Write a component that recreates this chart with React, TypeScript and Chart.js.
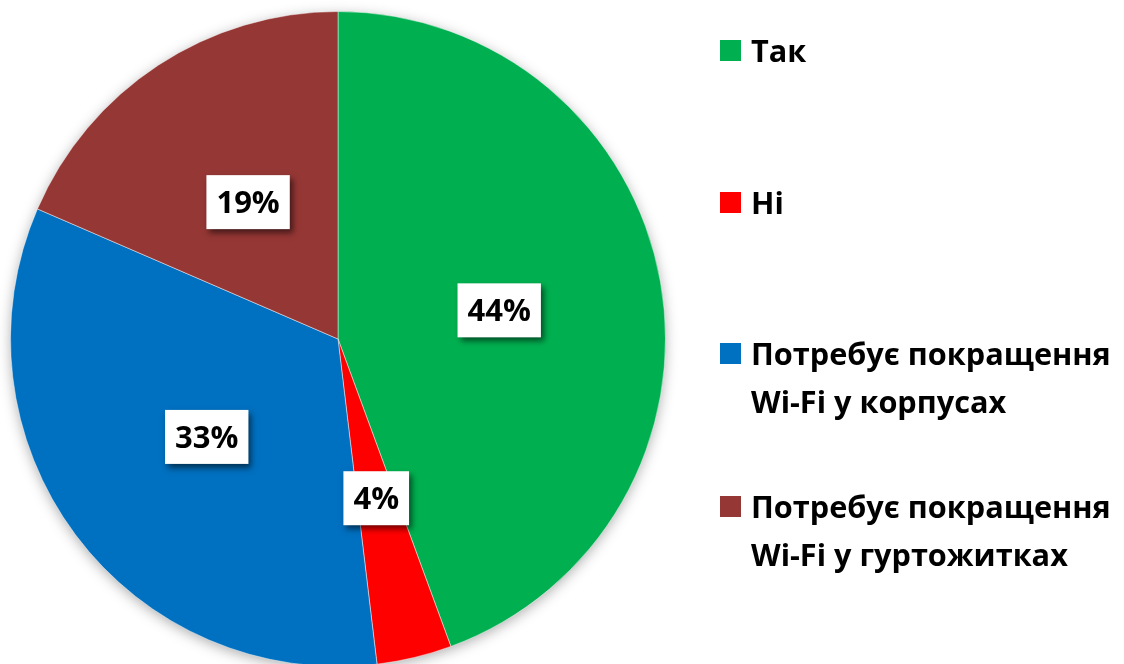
import React, { useEffect, useRef } from "react";
import { Chart, registerables } from "chart.js";

Chart.register(...registerables);

const categories = [
  "Так",
  "Ні",
  "Потребує покращення\nWi-Fi у корпусах",
  "Потребує покращення\nWi-Fi у гуртожитках",
];
const values = [44.4, 3.7, 33.4, 18.5];
const colors = ["#00B050", "#FF0000", "#0070C0", "#953735"];
const valueLabels = ["44%", "4%", "33%", "19%"];

const FONT = "'Open Sans', 'Noto Sans', sans-serif";

const pieShadow = {
  id: "pieShadow",
  beforeDatasetsDraw(chart: any) {
    const meta = chart.getDatasetMeta(0);
    const arc = meta.data[0];
    if (!arc) return;
    const { x, y, outerRadius } = arc.getProps(["x", "y", "outerRadius"], true);
    const ctx = chart.ctx;
    ctx.save();
    ctx.shadowColor = "rgba(0,0,0,0.35)";
    ctx.shadowBlur = 14;
    ctx.shadowOffsetY = 3;
    ctx.fillStyle = "#ffffff";
    ctx.beginPath();
    ctx.arc(x, y, outerRadius - 1, 0, Math.PI * 2);
    ctx.fill();
    ctx.restore();
  },
};

const labelsPlugin = {
  id: "boxLabels",
  afterDatasetsDraw(chart: any) {
    const ctx = chart.ctx;
    const meta = chart.getDatasetMeta(0);
    ctx.save();
    ctx.font = `bold 31px ${FONT}`;
    ctx.textAlign = "center";
    ctx.textBaseline = "middle";
    meta.data.forEach((arc: any, i: number) => {
      const p = arc.tooltipPosition(true);
      const text = valueLabels[i];
      const w = ctx.measureText(text).width + 20;
      const h = 54;
      ctx.save();
      ctx.shadowColor = "rgba(0,0,0,0.55)";
      ctx.shadowBlur = 6;
      ctx.shadowOffsetX = 3;
      ctx.shadowOffsetY = 4;
      ctx.fillStyle = "#ffffff";
      ctx.fillRect(p.x - w / 2, p.y - h / 2, w, h);
      ctx.restore();
      ctx.fillStyle = "#000000";
      ctx.fillText(text, p.x, p.y + 2);
    });
    ctx.restore();
  },
};

const legendPlugin = {
  id: "customLegend",
  afterDraw(chart: any) {
    const ctx = chart.ctx;
    ctx.save();
    ctx.font = `bold 100px ${FONT}`;
    const wRef = ctx.measureText("Потребує покращення").width;
    const size = Math.min(33, (360 / wRef) * 100);
    ctx.font = `bold ${size}px ${FONT}`;
    ctx.textAlign = "left";
    ctx.textBaseline = "alphabetic";
    const tops = [40, 192, 343, 496];
    categories.forEach((c, i) => {
      const top = tops[i];
      ctx.fillStyle = colors[i];
      ctx.fillRect(720, top, 21, 21);
      ctx.fillStyle = "#000000";
      c.split("\n").forEach((line, j) => {
        ctx.fillText(line, 751, top + 22 + j * 48);
      });
    });
    ctx.restore();
  },
};

export default function App() {
  const ref = useRef<HTMLCanvasElement | null>(null);
  useEffect(() => {
    document.body.style.margin = "0";
    const chart = new Chart(ref.current as HTMLCanvasElement, {
      type: "pie",
      data: {
        labels: categories,
        datasets: [
          {
            data: values,
            backgroundColor: colors,
            borderColor: "rgba(255,255,255,0.45)",
            borderWidth: 1,
          },
        ],
      },
      options: {
        animation: false,
        responsive: false,
        maintainAspectRatio: false,
        layout: { padding: { left: 10, top: 11, right: 458, bottom: 13 } },
        plugins: {
          legend: { display: false },
          tooltip: { enabled: false },
        },
      },
      plugins: [pieShadow, labelsPlugin, legendPlugin],
    });
    return () => chart.destroy();
  }, []);
  return (
    <div
      style={{
        position: "fixed",
        left: 0,
        top: 0,
        width: 1124,
        height: 664,
        overflow: "hidden",
        background: "#ffffff",
      }}
    >
      <canvas ref={ref} width={1124} height={680} style={{ width: 1124, height: 680, display: "block" }} />
    </div>
  );
}
